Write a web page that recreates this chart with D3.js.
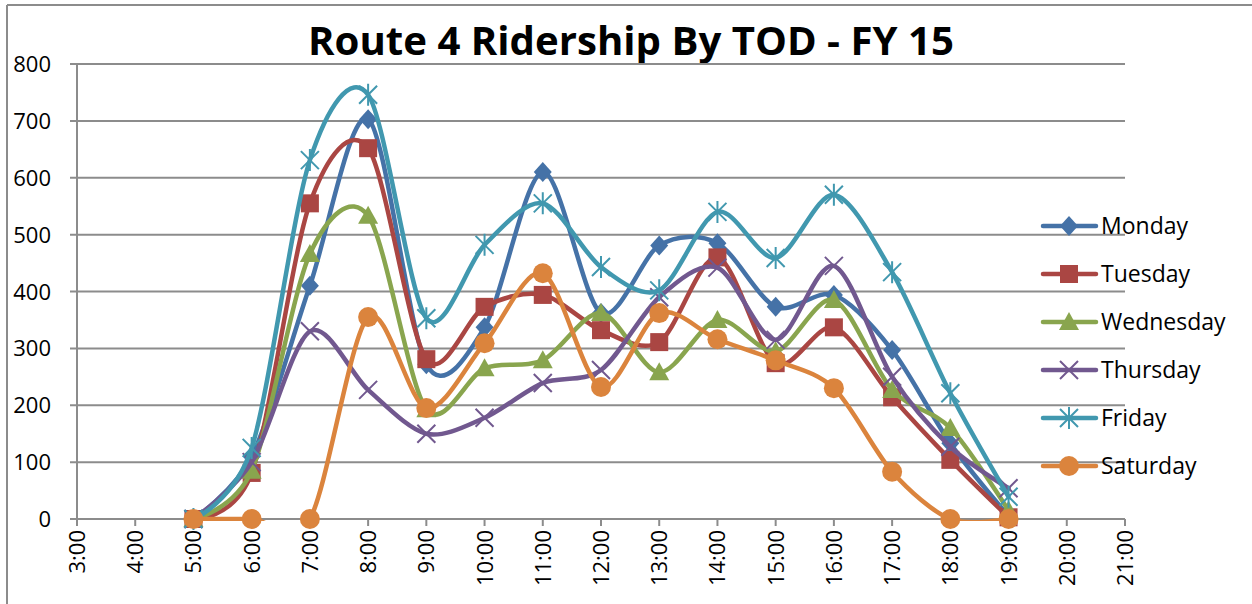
<!DOCTYPE html>
<html>
<head>
<meta charset="utf-8">
<script src="https://cdn.jsdelivr.net/npm/d3@7"></script>
<style>
  body { margin: 0; background: #fff; }
  text { font-family: "Open Sans", "Liberation Sans", sans-serif; fill: #000; }
</style>
</head>
<body>
<script>
// data
var hours = [5, 6, 7, 8, 9, 10, 11, 12, 13, 14, 15, 16, 17, 18, 19];
var tickHours = [3, 4, 5, 6, 7, 8, 9, 10, 11, 12, 13, 14, 15, 16, 17, 18, 19, 20, 21];
var yTicks = [0, 100, 200, 300, 400, 500, 600, 700, 800];

var monday    = [0, 110, 410, 703, 272, 337, 610, 362, 481, 485, 373, 394, 297, 133, 5];
var tuesday   = [0, 81, 555, 652, 281, 373, 394, 332, 311, 460, 274, 337, 214, 104, 3];
var wednesday = [0, 85, 466, 533, 193, 265, 279, 362, 258, 350, 295, 385, 227, 160, 15];
var thursday  = [0, 100, 330, 227, 150, 178, 239, 262, 390, 442, 315, 445, 250, 127, 54];
var friday    = [0, 125, 631, 746, 353, 482, 555, 443, 402, 540, 459, 570, 434, 221, 39];
var saturday  = [0, 0, 0, 355, 195, 309, 432, 232, 362, 316, 279, 230, 83, 0, 0];

var seriesNames = ["Monday", "Tuesday", "Wednesday", "Thursday", "Friday", "Saturday"];
var seriesValues = [monday, tuesday, wednesday, thursday, friday, saturday];
var colors = ["#4572A7", "#AA4643", "#89A54E", "#71588F", "#4198AF", "#DB843D"];
var symbols = ["diamond", "square", "triangle", "x", "star", "circle"];

var width = 1252;
var height = 604;

var svg = d3.select("body")
  .append("svg")
  .attr("width", width)
  .attr("height", height);

// outer chart border (only top and left visible)
svg.append("line").attr("x1", 7).attr("x2", width).attr("y1", 5).attr("y2", 5)
  .style("stroke", "#8c8c8c").style("stroke-width", 2);
svg.append("line").attr("x1", 7).attr("x2", 7).attr("y1", 5).attr("y2", height)
  .style("stroke", "#8c8c8c").style("stroke-width", 2);

var x = d3.scaleLinear().domain([3, 21]).range([77, 1125]);
var y = d3.scaleLinear().domain([0, 800]).range([519, 64]);

// title
var title = svg.append("text")
  .attr("x", 631)
  .attr("y", 55)
  .attr("text-anchor", "middle")
  .style("font-weight", "bold")
  .style("font-size", "40px")
  .text("Route 4 Ridership By TOD - FY 15");
var tw = title.node().getComputedTextLength();
title.style("font-size", (40 * 646 / tw) + "px");

// grid lines
svg.selectAll(".grid")
  .data(yTicks)
  .enter()
  .append("line")
  .attr("x1", x(3) - 7)
  .attr("x2", x(21))
  .attr("y1", function(d) { return y(d); })
  .attr("y2", function(d) { return y(d); })
  .style("stroke", "#8c8c8c")
  .style("stroke-width", 2);

// y axis line
svg.append("line")
  .attr("x1", x(3)).attr("x2", x(3))
  .attr("y1", y(800)).attr("y2", y(0))
  .style("stroke", "#8c8c8c").style("stroke-width", 2);

// x ticks
svg.selectAll(".xtick")
  .data(tickHours)
  .enter()
  .append("line")
  .attr("x1", function(d) { return x(d); })
  .attr("x2", function(d) { return x(d); })
  .attr("y1", y(0))
  .attr("y2", y(0) + 7)
  .style("stroke", "#8c8c8c")
  .style("stroke-width", 2);

// y labels
svg.selectAll(".ylab")
  .data(yTicks)
  .enter()
  .append("text")
  .attr("x", 51)
  .attr("y", function(d) { return y(d) + 8; })
  .attr("text-anchor", "end")
  .style("font-size", "22px")
  .text(function(d) { return d; });

// x labels, rotated
svg.selectAll(".xlab")
  .data(tickHours)
  .enter()
  .append("text")
  .attr("transform", function(d) { return "translate(" + (x(d) + 8) + "," + 530 + ") rotate(-90)"; })
  .attr("text-anchor", "end")
  .style("font-size", "22px")
  .text(function(d) { return d + ":00"; });

// clip for lines
svg.append("clipPath").attr("id", "plot")
  .append("rect")
  .attr("x", x(3)).attr("y", 0)
  .attr("width", x(21) - x(3) + 10).attr("height", y(0) + 2);

var line = d3.line()
  .x(function(d, i) { return x(hours[i]); })
  .y(function(d) { return y(d); })
  .curve(d3.curveCardinal.tension(0.1));

function drawMarker(g, type, color, cx, cy) {
  if (type === "diamond") {
    g.append("path").attr("d", "M" + cx + "," + (cy - 10) + "L" + (cx + 9) + "," + cy + "L" + cx + "," + (cy + 10) + "L" + (cx - 9) + "," + cy + "Z")
      .style("fill", color);
  } else if (type === "square") {
    g.append("rect").attr("x", cx - 9).attr("y", cy - 9).attr("width", 18).attr("height", 18)
      .style("fill", color);
  } else if (type === "triangle") {
    g.append("path").attr("d", "M" + cx + "," + (cy - 10) + "L" + (cx + 10) + "," + (cy + 8) + "L" + (cx - 10) + "," + (cy + 8) + "Z")
      .style("fill", color);
  } else if (type === "x") {
    g.append("path").attr("d", "M" + (cx - 9) + "," + (cy - 9) + "L" + (cx + 9) + "," + (cy + 9) + "M" + (cx + 9) + "," + (cy - 9) + "L" + (cx - 9) + "," + (cy + 9))
      .style("stroke", color).style("stroke-width", 2).style("fill", "none");
  } else if (type === "star") {
    g.append("path").attr("d", "M" + (cx - 9) + "," + (cy - 9) + "L" + (cx + 9) + "," + (cy + 9) + "M" + (cx + 9) + "," + (cy - 9) + "L" + (cx - 9) + "," + (cy + 9) + "M" + cx + "," + (cy - 11) + "L" + cx + "," + (cy + 11))
      .style("stroke", color).style("stroke-width", 2).style("fill", "none");
  } else {
    g.append("circle").attr("cx", cx).attr("cy", cy).attr("r", 10).style("fill", color);
  }
}

seriesValues.forEach(function(vals, s) {
  var g = svg.append("g");
  g.append("path")
    .datum(vals)
    .attr("d", line)
    .attr("clip-path", "url(#plot)")
    .style("fill", "none")
    .style("stroke", colors[s])
    .style("stroke-width", 4.5)
    .style("stroke-linecap", "round");
  vals.forEach(function(v, i) {
    drawMarker(g, symbols[s], colors[s], x(hours[i]), y(v));
  });
});

// legend
seriesNames.forEach(function(name, s) {
  var cy = 226 + s * 48;
  var g = svg.append("g");
  g.append("line")
    .attr("x1", 1043).attr("x2", 1096).attr("y1", cy).attr("y2", cy)
    .style("stroke", colors[s]).style("stroke-width", 4.5).style("stroke-linecap", "round");
  drawMarker(g, symbols[s], colors[s], 1069, cy);
  g.append("text")
    .attr("x", 1101)
    .attr("y", cy + 8)
    .style("font-size", "23px")
    .text(name);
});
</script>
</body>
</html>
